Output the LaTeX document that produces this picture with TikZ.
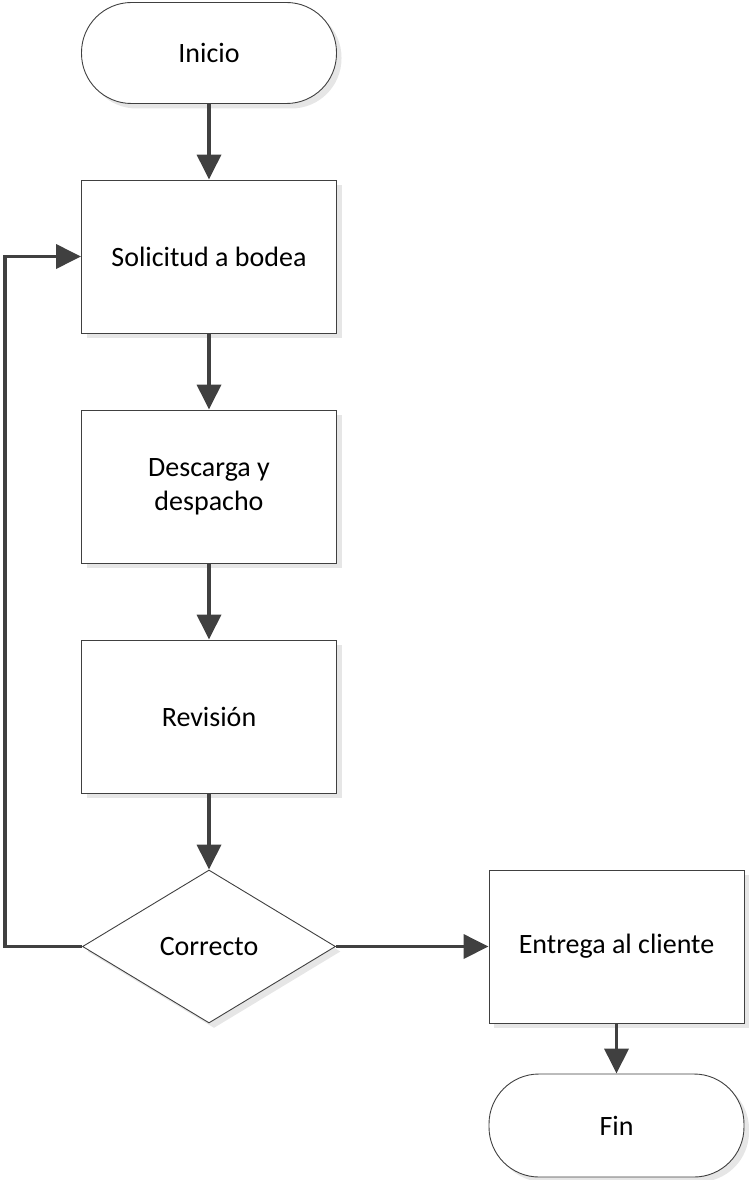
\documentclass[tikz,border=0pt]{standalone}
\usepackage{fontspec}
\setmainfont{Carlito}
\usetikzlibrary{shapes.geometric,arrows.meta,shadows,calc}
\definecolor{lin}{HTML}{404040}
\definecolor{shd}{HTML}{E6E6E6}
\begin{document}
\begin{tikzpicture}[x=1pt,y=-1pt,
  font=\fontsize{28}{34}\selectfont,
  sh/.style={general shadow={fill=shd,shadow xshift=5pt,shadow yshift=-5pt}},
  procbox/.style={rectangle,draw=lin,line width=0.9pt,fill=white,sh,minimum width=255pt,minimum height=153pt,inner sep=0pt,align=center},
  term/.style={rectangle,rounded corners=50pt,draw=lin,line width=0.9pt,fill=white,sh,minimum width=255pt,minimum height=101pt,inner sep=0pt},
  dec/.style={diamond,draw=lin,line width=0.9pt,fill=white,sh,minimum width=253pt,minimum height=153pt,inner sep=0pt,aspect=1.65},
  conn/.style={draw=lin,line width=3.6pt,-{Triangle[length=25pt,width=24pt]}}]
\useasboundingbox (0,0) rectangle (748,1180);
\node[term] (inicio) at (209,53) {Inicio};
\node[procbox] (sol) at (209,256.5) {Solicitud a bodea};
\node[procbox] (desc) at (209,486.5) {Descarga y\\despacho};
\node[procbox] (rev) at (209,716.5) {Revisión};
\node[dec] (corr) at (209,946.5) {Correcto};
\node[procbox] (ent) at (616.5,946.5) {Entrega al cliente};
\node[term,minimum height=103pt] (fin) at (616.5,1125.5) {Fin};
\coordinate (lp) at (5,946.5);
\draw[conn] (inicio) -- (sol);
\draw[conn] (sol) -- (desc);
\draw[conn] (desc) -- (rev);
\draw[conn] (rev) -- (corr);
\draw[conn] (corr) -- (ent);
\draw[conn] (ent) -- (fin);
\draw[conn] (corr.west) -- (lp) |- (sol.west);
\end{tikzpicture}
\end{document}
